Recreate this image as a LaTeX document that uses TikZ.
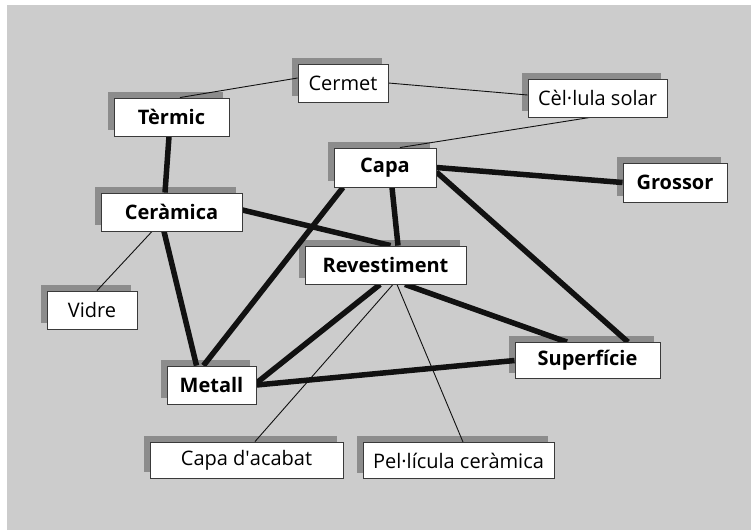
\documentclass[tikz,border=0pt]{standalone}
\usepackage{fontspec}
\setmainfont{Open Sans}
\usetikzlibrary{backgrounds}
\definecolor{bgc}{HTML}{CCCCCC}
\definecolor{shc}{HTML}{8C8C8C}
\definecolor{bdc}{HTML}{3A3A3A}
\definecolor{lnc}{HTML}{111111}
\begin{document}
\begin{tikzpicture}[x=1pt,y=-1pt,
  box/.style={draw=bdc,fill=white,line width=0.9pt,inner sep=0pt,minimum height=38pt,font=\fontsize{20}{24}\selectfont},
  bbox/.style={box,font=\fontsize{20}{24}\selectfont\bfseries},
  heavy/.style={draw=lnc,line width=5.5pt},
  thinline/.style={draw=lnc,line width=0.9pt}]
\useasboundingbox (0,0) rectangle (751,531);
\node[bbox,minimum width=115pt] (termic) at (171.5,117) {Tèrmic};
\node[box,minimum width=90pt] (cermet) at (343,83) {Cermet};
\node[box,minimum width=139pt] (cellula) at (597.5,98) {Cèl·lula solar};
\node[bbox,minimum width=102pt,minimum height=39pt] (capa) at (385,167.5) {Capa};
\node[bbox,minimum width=104pt,minimum height=39pt] (grossor) at (675,182.5) {Grossor};
\node[bbox,minimum width=141pt] (ceramica) at (171.5,212) {Ceràmica};
\node[bbox,minimum width=161pt] (revest) at (385.5,265) {Revestiment};
\node[box,minimum width=90pt] (vidre) at (92,310) {Vidre};
\node[bbox,minimum width=89pt] (metall) at (211.5,385) {Metall};
\node[bbox,minimum width=145pt,minimum height=36pt] (superf) at (587.5,360.5) {Superfície};
\node[box,minimum width=193pt,minimum height=36pt] (acabat) at (246.5,460) {Capa d\textquotesingle acabat};
\node[box,minimum width=191pt,minimum height=36pt] (pelicula) at (458.5,460.5) {Pel·lícula ceràmica};
\begin{scope}[on background layer]
  \fill[bgc] (7,5) rectangle (751,530);
  \foreach \n in {termic,cermet,cellula,capa,grossor,ceramica,revest,vidre,metall,superf,acabat,pelicula}
    \fill[shc] ([xshift=-6pt,yshift=6pt]\n.south west) rectangle ([xshift=-6pt,yshift=6pt]\n.north east);
  \draw[thinline] ([xshift=8.5pt]termic.north) -- ([yshift=5pt]cermet.west);
  \draw[thinline] (cermet.east) -- ([yshift=3pt]cellula.west);
  \draw[thinline] ([xshift=-7.5pt]cellula.south) -- ([xshift=15pt]capa.north);
  \draw[heavy] ([xshift=-2.5pt]termic.south) -- ([xshift=-6.5pt]ceramica.north);
  \draw[heavy] ([yshift=2pt]ceramica.east) -- ([xshift=5pt]revest.north);
  \draw[heavy] ([xshift=7pt]capa.south) -- ([xshift=12.5pt]revest.north);
  \draw[thinline] ([xshift=-19.5pt]ceramica.south) -- ([xshift=5pt]vidre.north);
  \draw[heavy] ([xshift=-7.5pt]ceramica.south) -- ([xshift=-15pt]metall.north);
  \draw[heavy] ([xshift=-42pt]capa.south) -- ([xshift=-8pt]metall.north);
  \draw[heavy] (capa.east) -- (grossor.west);
  \draw[heavy] ([yshift=-4.5pt]capa.east) -- ([xshift=40.5pt]superf.north);
  \draw[heavy] ([xshift=19.5pt]revest.south) -- ([xshift=-20.5pt]superf.north);
  \draw[heavy] ([xshift=-5.5pt]revest.south) -- ([yshift=2pt]metall.east);
  \draw[heavy] (metall.east) -- (superf.west);
  \draw[thinline] ([xshift=7.5pt]revest.south) -- ([xshift=8.5pt]acabat.north);
  \draw[thinline] ([xshift=11.5pt]revest.south) -- ([xshift=4.5pt]pelicula.north);
\end{scope}
\end{tikzpicture}
\end{document}
